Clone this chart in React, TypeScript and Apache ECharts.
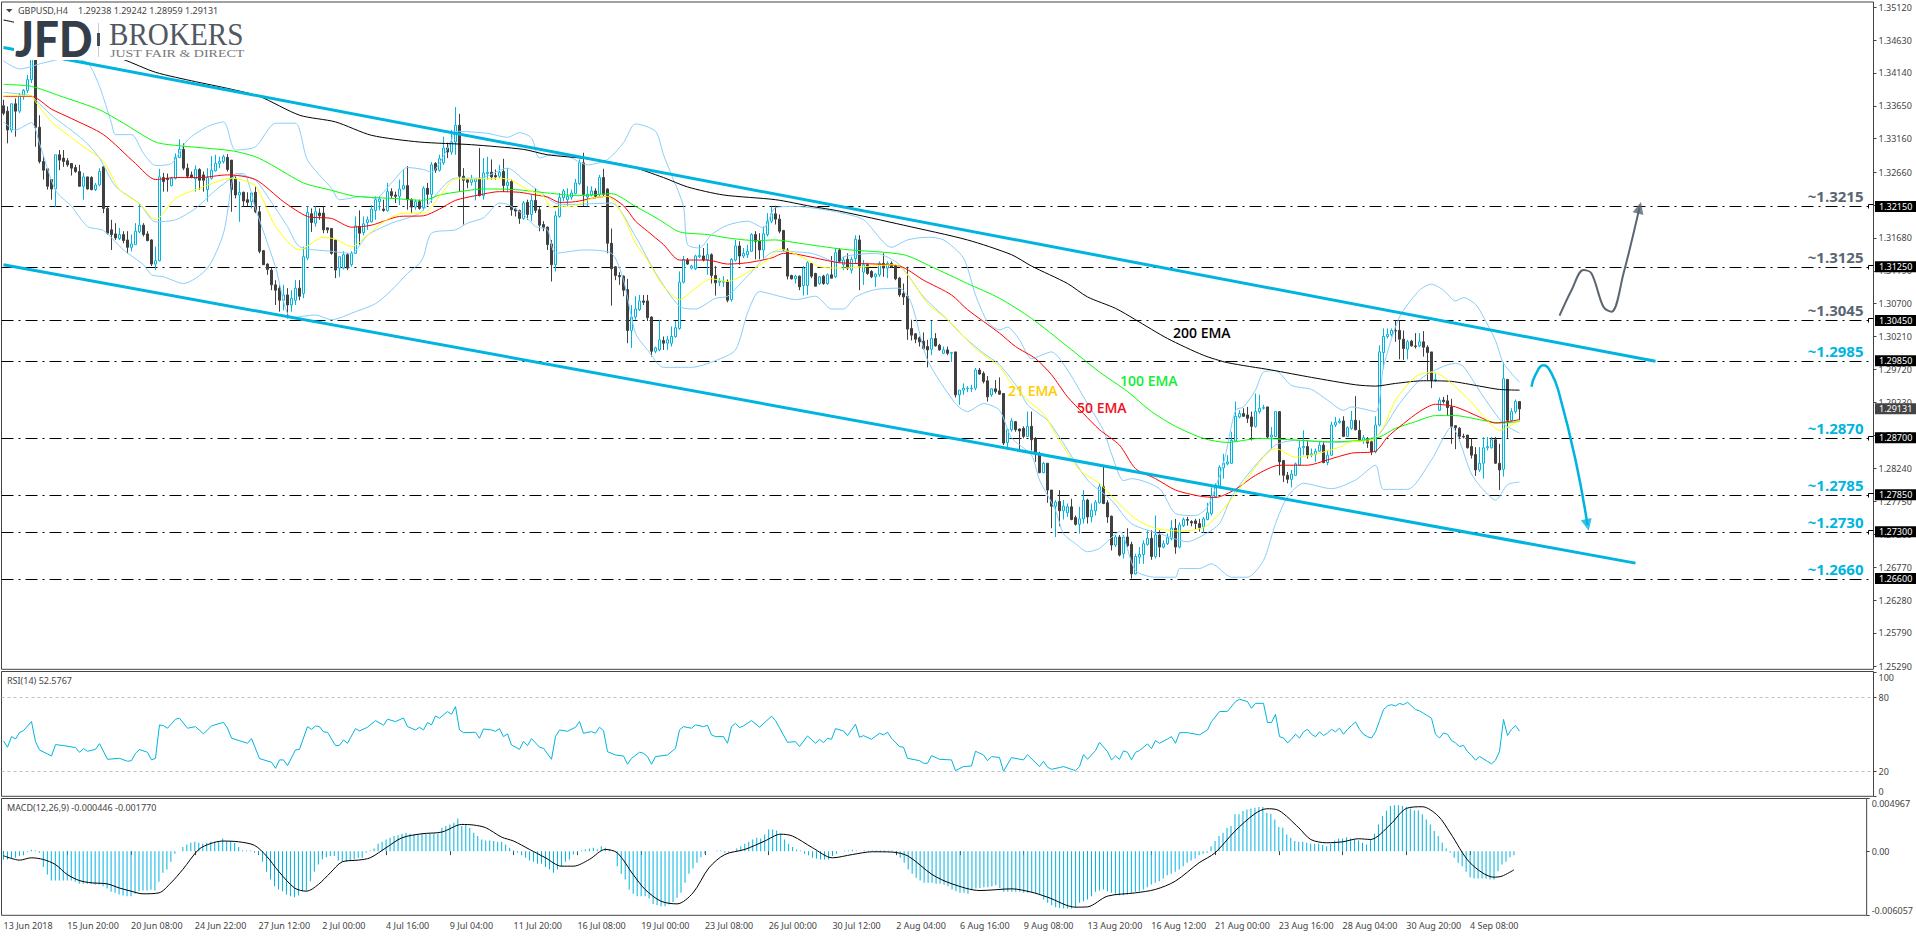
import { useEffect, useRef } from 'react';
import * as echarts from 'echarts';

const FONT = '"Noto Sans", sans-serif';
const BLUE = '#00b4e0';
const SLATE = '#5a6672';

// prices are kept in pips (1.3215 -> 13215), one row per 10 bars: open, close, low, high
const candles = [
    [13365,13354,13351,13374],[13357,13329,13309,13364],[13329,13368,13325,13368],[13368,13357,13319,13376],[13357,13380,13354,13384],[13379,13388,13374,13390],[13388,13404,13384,13411],[13404,13434,13399,13434],[13434,13333,13304,13434],[13333,13282,13279,13351],
    [13282,13269,13255,13289],[13271,13245,13240,13272],[13255,13241,13225,13255],[13241,13292,13214,13292],[13292,13284,13269,13299],[13287,13282,13274,13299],[13283,13277,13274,13287],[13279,13272,13261,13279],[13273,13267,13265,13277],[13267,13245,13245,13277],
    [13245,13259,13225,13265],[13259,13241,13240,13259],[13258,13240,13239,13260],[13240,13247,13238,13250],[13247,13267,13245,13272],[13274,13212,13205,13274],[13212,13175,13173,13215],[13180,13173,13150,13195],[13174,13168,13165,13190],[13167,13173,13165,13183],
    [13173,13164,13160,13178],[13165,13154,13145,13178],[13154,13159,13148,13173],[13158,13178,13158,13190],[13177,13187,13175,13219],[13187,13173,13170,13190],[13174,13164,13163,13178],[13165,13129,13126,13166],[13129,13134,13120,13155],[13134,13259,13133,13271],
    [13258,13252,13237,13265],[13257,13255,13237,13264],[13246,13257,13245,13259],[13257,13288,13255,13294],[13288,13300,13287,13315],[13300,13272,13269,13309],[13272,13260,13257,13279],[13262,13258,13257,13267],[13256,13270,13237,13276],[13270,13254,13240,13272],
    [13262,13254,13237,13267],[13240,13258,13222,13272],[13257,13269,13255,13290],[13268,13279,13267,13292],[13279,13282,13272,13289],[13282,13289,13279,13292],[13288,13270,13267,13293],[13284,13240,13207,13284],[13256,13232,13227,13260],[13232,13236,13192,13252],
    [13236,13223,13214,13237],[13225,13221,13215,13236],[13222,13235,13212,13236],[13236,13207,13205,13245],[13207,13148,13145,13215],[13149,13128,13128,13150],[13129,13121,13113,13130],[13120,13098,13090,13123],[13098,13090,13068,13105],[13093,13075,13058,13098],
    [13075,13083,13060,13098],[13083,13068,13048,13093],[13068,13078,13058,13090],[13075,13093,13068,13105],[13093,13081,13075,13105],[13085,13140,13078,13155],[13138,13206,13135,13215],[13204,13191,13177,13212],[13190,13207,13185,13215],[13205,13201,13195,13212],
    [13205,13180,13175,13215],[13183,13180,13175,13183],[13182,13145,13143,13183],[13165,13120,13108,13165],[13123,13140,13110,13140],[13123,13143,13121,13148],[13143,13123,13120,13145],[13128,13145,13125,13148],[13145,13186,13144,13200],[13185,13175,13158,13209],
    [13176,13189,13172,13200],[13191,13195,13180,13200],[13192,13211,13191,13217],[13209,13225,13195,13230],[13222,13226,13209,13230],[13211,13209,13207,13225],[13209,13237,13207,13250],[13237,13231,13227,13242],[13232,13230,13220,13237],[13230,13241,13217,13255],
    [13241,13246,13240,13270],[13246,13225,13210,13275],[13225,13214,13205,13227],[13214,13222,13210,13225],[13222,13212,13210,13225],[13213,13242,13209,13245],[13242,13233,13218,13250],[13233,13277,13220,13281],[13279,13269,13265,13281],[13269,13286,13267,13292],
    [13280,13302,13277,13319],[13302,13296,13287,13310],[13296,13311,13292,13329],[13311,13336,13292,13363],[13336,13260,13237,13353],[13260,13254,13188,13272],[13255,13251,13242,13257],[13251,13255,13246,13262],[13252,13256,13224,13257],[13256,13231,13230,13302],
    [13231,13265,13225,13287],[13264,13266,13255,13289],[13266,13259,13255,13285],[13261,13259,13255,13270],[13260,13266,13257,13277],[13267,13246,13237,13286],[13246,13251,13237,13272],[13252,13210,13201,13255],[13211,13208,13200,13213],[13209,13197,13189,13210],
    [13197,13220,13195,13223],[13221,13203,13195,13225],[13203,13224,13193,13232],[13224,13209,13205,13242],[13210,13187,13178,13215],[13188,13184,13178,13193],[13184,13158,13150,13185],[13159,13128,13103,13165],[13128,13201,13118,13208],[13200,13228,13198,13235],
    [13228,13238,13223,13241],[13225,13230,13215,13242],[13229,13235,13225,13240],[13234,13250,13233,13256],[13249,13280,13247,13285],[13280,13233,13215,13295],[13229,13233,13215,13245],[13232,13238,13230,13245],[13238,13230,13227,13242],[13233,13258,13230,13262],
    [13258,13233,13230,13271],[13241,13160,13145,13242],[13160,13122,13067,13182],[13125,13112,13105,13126],[13112,13110,13098,13117],[13111,13090,13081,13112],[13091,13030,13011,13107],[13030,13050,13004,13068],[13050,13062,13046,13081],[13061,13074,13059,13083],
    [13074,13072,13068,13083],[13074,13049,13044,13083],[13050,12999,12991,13051],[12999,13004,12996,13006],[13001,13016,12999,13046],[13015,13011,13001,13021],[13011,13016,13001,13022],[13011,13021,13006,13036],[13021,13034,13019,13044],[13033,13102,13031,13118],
    [13102,13136,13100,13141],[13135,13129,13128,13138],[13123,13126,13121,13128],[13122,13141,13120,13143],[13140,13142,13138,13158],[13141,13135,13133,13153],[13135,13143,13113,13160],[13143,13112,13100,13145],[13112,13101,13082,13126],[13102,13104,13096,13108],
    [13102,13103,13095,13111],[13103,13075,13072,13106],[13076,13136,13073,13138],[13135,13156,13133,13165],[13156,13141,13128,13163],[13141,13145,13138,13153],[13143,13148,13138,13158],[13148,13173,13147,13175],[13173,13163,13136,13178],[13163,13150,13136,13175],
    [13150,13174,13136,13185],[13173,13193,13170,13205],[13193,13204,13190,13215],[13204,13196,13188,13216],[13196,13178,13175,13203],[13179,13150,13148,13180],[13150,13111,13106,13153],[13112,13107,13106,13113],[13107,13111,13100,13113],[13111,13095,13090,13112],
    [13097,13123,13082,13126],[13097,13131,13083,13133],[13130,13111,13108,13131],[13115,13096,13096,13116],[13100,13110,13098,13111],[13111,13100,13098,13113],[13100,13113,13098,13115],[13113,13108,13108,13141],[13110,13146,13108,13153],[13150,13133,13131,13153],
    [13128,13135,13120,13140],[13136,13123,13120,13145],[13120,13136,13115,13140],[13137,13166,13130,13172],[13165,13126,13090,13172],[13117,13128,13098,13135],[13128,13115,13113,13130],[13118,13110,13108,13120],[13110,13114,13095,13115],[13113,13130,13110,13133],
    [13130,13123,13110,13145],[13123,13130,13108,13133],[13130,13125,13123,13133],[13126,13107,13105,13128],[13108,13083,13080,13110],[13085,13080,13068,13100],[13081,13032,13016,13125],[13033,13023,13015,13046],[13025,13017,13011,13026],[13019,13013,13006,13021],
    [13014,13003,13001,13027],[13006,13001,12975,13016],[13002,13018,12993,13044],[13018,13007,13006,13026],[13008,13001,13000,13010],[12996,13001,12995,13006],[13001,12996,12993,13006],[12996,12997,12983,12998],[12998,12934,12930,12998],[12934,12941,12919,12941],
    [12941,12944,12934,12951],[12943,12944,12938,12947],[12943,12944,12938,12949],[12944,12971,12941,12974],[12971,12965,12964,12974],[12966,12954,12951,12969],[12955,12931,12924,12962],[12934,12943,12931,12944],[12943,12939,12936,12956],[12940,12935,12934,12960],
    [12936,12862,12859,12936],[12863,12882,12854,12884],[12882,12895,12879,12899],[12894,12882,12879,12895],[12883,12880,12852,12884],[12884,12872,12869,12887],[12872,12887,12871,12909],[12887,12867,12851,12909],[12869,12846,12834,12871],[12846,12818,12817,12849],
    [12818,12832,12817,12834],[12832,12792,12773,12832],[12792,12768,12735,12792],[12768,12774,12722,12777],[12775,12761,12738,12792],[12761,12768,12748,12777],[12758,12767,12752,12772],[12767,12748,12747,12779],[12751,12741,12739,12754],[12741,12749,12727,12767],
    [12749,12777,12742,12792],[12777,12752,12742,12779],[12752,12762,12744,12772],[12761,12774,12754,12777],[12773,12797,12772,12802],[12797,12772,12771,12828],[12773,12752,12743,12777],[12753,12710,12702,12754],[12710,12722,12707,12725],[12722,12695,12693,12725],
    [12697,12722,12690,12725],[12722,12709,12707,12735],[12711,12667,12660,12715],[12667,12693,12666,12697],[12692,12696,12682,12707],[12696,12712,12682,12717],[12711,12720,12709,12732],[12720,12693,12688,12732],[12693,12725,12690,12754],[12725,12707,12692,12732],
    [12707,12712,12705,12717],[12712,12721,12710,12727],[12720,12735,12717,12747],[12735,12707,12697,12749],[12707,12740,12705,12744],[12739,12748,12737,12751],[12748,12747,12739,12752],[12745,12743,12738,12747],[12746,12742,12734,12749],[12742,12736,12730,12749],
    [12737,12749,12728,12752],[12748,12758,12747,12773],[12757,12784,12754,12796],[12782,12799,12780,12802],[12798,12826,12797,12829],[12825,12832,12809,12846],[12831,12834,12829,12844],[12832,12866,12831,12879],[12865,12902,12864,12924],[12901,12906,12899,12911],
    [12906,12902,12901,12914],[12904,12899,12892,12916],[12901,12887,12866,12909],[12887,12909,12885,12936],[12909,12914,12906,12934],[12914,12915,12912,12919],[12916,12871,12869,12916],[12871,12874,12853,12886],[12872,12909,12871,12909],[12909,12834,12814,12909],
    [12836,12814,12804,12837],[12814,12808,12802,12819],[12808,12816,12796,12822],[12814,12831,12813,12833],[12829,12855,12828,12866],[12855,12857,12844,12881],[12857,12844,12839,12866],[12844,12846,12841,12854],[12845,12850,12834,12854],[12850,12859,12849,12864],
    [12859,12833,12832,12864],[12833,12844,12829,12851],[12844,12889,12843,12894],[12889,12893,12886,12901],[12893,12895,12891,12899],[12895,12872,12871,12902],[12872,12885,12871,12887],[12884,12896,12882,12910],[12896,12882,12881,12932],[12881,12866,12864,12896],
    [12866,12870,12861,12874],[12869,12862,12855,12871],[12864,12849,12844,12866],[12849,12889,12847,12902],[12889,12998,12887,13008],[12997,13021,12973,13033],[13021,13024,13018,13033],[13024,13030,13021,13033],[13030,13029,13013,13045],[13030,13017,12987,13045],
    [13017,13003,12986,13030],[13002,13013,12987,13016],[13014,13007,13006,13016],[13007,13006,13003,13026],[13007,13013,13005,13026],[13013,13005,12991,13029],[13005,12997,12956,13008],[12998,12956,12944,12998],[12955,12957,12953,12966],[12911,12926,12910,12930],
    [12926,12924,12921,12931],[12925,12915,12903,12934],[12916,12887,12861,12928],[12888,12885,12853,12888],[12884,12872,12869,12886],[12872,12871,12869,12876],[12874,12855,12854,12874],[12857,12844,12839,12869],[12845,12822,12813,12856],[12822,12832,12819,12856],
    [12832,12855,12809,12871],[12855,12857,12851,12871],[12855,12867,12854,12871],[12867,12832,12831,12871],[12832,12822,12792,12861],[12823,12958,12812,12983],[12957,12896,12870,12957],[12896,12909,12894,12914],[12909,12924,12906,12927],[12924,12913,12896,12924],
];

// the indicators below are [bar, pips] vertices
const ema21 = [[0,13380],[7,13380],[8,13371],[12,13341],[16,13322],[20,13304],[25,13282],[29,13240],[34,13219],[38,13195],[43,13227],[49,13242],[57,13257],[63,13245],[68,13185],[74,13150],[80,13169],[83,13166],[87,13155],[91,13172],[95,13192],[100,13205],[105,13205],[109,13230],[113,13256],[118,13256],[124,13257],[127,13254],[131,13240],[135,13230],[137,13213],[140,13215],[143,13216],[147,13227],[151,13230],[155,13200],[158,13160],[161,13135],[165,13096],[169,13076],[173,13093],[177,13107],[181,13103],[185,13113],[191,13135],[194,13151],[196,13149],[201,13135],[204,13125],[209,13123],[223,13128],[227,13105],[231,13070],[236,13046],[243,13003],[249,12976],[252,12951],[257,12921],[260,12906],[264,12866],[269,12822],[274,12802],[278,12777],[283,12749],[288,12735],[294,12731],[300,12736],[304,12757],[309,12794],[315,12841],[318,12854],[323,12841],[327,12844],[334,12856],[337,12864],[342,12866],[345,12886],[348,12926],[353,12961],[357,12968],[360,12961],[366,12929],[371,12896],[374,12881],[379,12896]];
const ema50 = [[0,13379],[7,13379],[12,13360],[17,13346],[25,13322],[33,13279],[38,13255],[43,13258],[49,13258],[56,13262],[63,13255],[70,13222],[76,13200],[82,13197],[87,13184],[92,13187],[99,13200],[105,13201],[109,13211],[113,13224],[118,13231],[124,13237],[129,13236],[133,13232],[136,13229],[139,13221],[143,13222],[147,13227],[151,13230],[155,13216],[158,13193],[161,13178],[165,13158],[169,13135],[176,13135],[181,13129],[186,13131],[192,13138],[195,13145],[198,13144],[203,13138],[209,13131],[224,13126],[230,13105],[237,13083],[241,13061],[249,13026],[253,13006],[258,12988],[262,12964],[266,12931],[270,12906],[274,12882],[279,12859],[283,12824],[288,12809],[293,12792],[299,12783],[303,12781],[308,12793],[313,12814],[319,12829],[326,12829],[331,12837],[337,12847],[343,12850],[346,12871],[350,12891],[354,12909],[358,12920],[363,12916],[369,12901],[373,12892],[379,12897]];
const ema100 = [[0,13397],[7,13394],[14,13380],[24,13359],[30,13339],[38,13311],[43,13306],[57,13298],[63,13289],[67,13277],[75,13250],[82,13239],[88,13230],[97,13227],[105,13224],[109,13232],[114,13237],[120,13241],[128,13240],[136,13235],[144,13231],[152,13234],[158,13215],[164,13195],[169,13177],[176,13173],[181,13168],[188,13164],[193,13165],[199,13160],[210,13151],[225,13143],[232,13125],[241,13100],[249,13078],[257,13048],[266,13006],[274,12968],[281,12939],[287,12909],[293,12887],[300,12869],[306,12863],[314,12869],[322,12867],[332,12864],[339,12866],[344,12871],[348,12884],[353,12894],[358,12903],[363,12903],[369,12897],[374,12892],[379,12894]];
const ema200 = [[0,13493],[3,13489],[30,13434],[38,13415],[48,13401],[56,13391],[64,13379],[74,13351],[83,13341],[92,13321],[104,13311],[117,13307],[130,13300],[136,13292],[146,13286],[156,13276],[165,13258],[171,13244],[180,13232],[193,13225],[202,13215],[209,13208],[225,13187],[241,13165],[252,13143],[257,13126],[266,13100],[271,13080],[278,13063],[283,13046],[291,13018],[300,12993],[306,12982],[317,12971],[327,12960],[338,12949],[343,12947],[348,12951],[355,12955],[362,12954],[369,12947],[374,12942],[379,12941]];
const bandUpper = [[0,13432],[4,13420],[10,13429],[16,13436],[21,13429],[24,13394],[27,13339],[28,13322],[32,13322],[35,13294],[38,13276],[42,13279],[46,13314],[51,13334],[55,13341],[58,13299],[63,13304],[68,13339],[73,13339],[76,13284],[82,13242],[84,13225],[90,13230],[93,13227],[97,13250],[101,13273],[105,13270],[107,13266],[110,13290],[112,13314],[113,13327],[121,13324],[126,13318],[129,13325],[132,13317],[134,13287],[137,13292],[141,13290],[146,13277],[151,13285],[155,13310],[158,13338],[163,13327],[165,13292],[167,13262],[170,13215],[171,13158],[174,13153],[177,13173],[181,13187],[186,13193],[190,13183],[193,13213],[198,13215],[203,13212],[209,13206],[215,13195],[222,13154],[226,13165],[231,13169],[235,13165],[240,13138],[243,13083],[246,13043],[249,13031],[251,13035],[254,13016],[257,12988],[262,12998],[266,12971],[270,12931],[275,12881],[277,12846],[280,12806],[282,12809],[289,12794],[293,12757],[298,12754],[301,12767],[305,12832],[308,12911],[310,12916],[313,12941],[315,12968],[318,12970],[322,12948],[327,12942],[331,12926],[335,12911],[337,12916],[343,12909],[345,12976],[349,13050],[354,13090],[357,13099],[360,13090],[363,13074],[365,13079],[368,13069],[370,13050],[373,13015],[375,12981],[379,12953]];
const bandMiddle = [[0,13385],[7,13380],[8,13374],[12,13351],[20,13314],[24,13287],[28,13245],[34,13219],[38,13192],[43,13195],[48,13212],[53,13239],[57,13257],[59,13262],[63,13254],[66,13230],[71,13185],[74,13155],[82,13148],[87,13145],[91,13172],[97,13190],[104,13205],[113,13257],[119,13257],[126,13272],[130,13255],[134,13237],[139,13218],[143,13218],[147,13219],[152,13220],[158,13170],[163,13116],[169,13066],[173,13062],[178,13078],[181,13081],[186,13111],[193,13148],[202,13145],[209,13131],[210,13140],[218,13145],[224,13128],[230,13080],[236,13046],[240,13021],[245,12996],[249,12979],[254,12941],[256,12919],[261,12896],[264,12871],[271,12807],[277,12777],[282,12742],[290,12725],[296,12715],[300,12725],[304,12742],[307,12782],[312,12822],[318,12859],[323,12866],[332,12863],[340,12866],[344,12876],[349,12921],[355,12961],[363,12981],[365,12976],[370,12931],[375,12891],[379,12877]];
const bandLower = [[0,13341],[3,13329],[7,13340],[9,13309],[13,13239],[17,13215],[21,13185],[25,13179],[30,13150],[35,13128],[37,13113],[40,13110],[45,13100],[51,13123],[55,13175],[58,13264],[60,13264],[63,13212],[66,13160],[68,13125],[72,13049],[78,13053],[82,13046],[88,13058],[93,13070],[97,13090],[101,13115],[104,13130],[105,13140],[107,13175],[113,13180],[116,13190],[120,13198],[124,13220],[126,13218],[130,13203],[133,13185],[136,13180],[138,13145],[145,13150],[152,13145],[155,13105],[158,13026],[161,13001],[165,12975],[172,12975],[178,12985],[183,13001],[186,13056],[189,13088],[194,13081],[198,13076],[203,13081],[207,13062],[210,13062],[213,13080],[218,13091],[224,13093],[227,13070],[231,12986],[238,12921],[241,12909],[245,12921],[249,12911],[252,12870],[257,12844],[259,12807],[263,12762],[265,12727],[268,12712],[271,12700],[274,12705],[279,12730],[283,12672],[288,12662],[293,12662],[294,12675],[299,12675],[302,12682],[307,12662],[311,12662],[315,12687],[318,12742],[321,12782],[325,12802],[332,12794],[338,12807],[343,12829],[345,12793],[351,12793],[357,12837],[362,12886],[367,12816],[370,12792],[373,12777],[376,12800],[379,12804]];
const channelUpper = [[0,13452],[413,12984]];
const channelLower = [[0,13128],[408,12683]];
const arrowDown = [[382,12946],[383,12964],[385,12978],[387,12966],[389,12934],[393,12837],[396,12740]];
const arrowUp = [[389,13052],[392,13090],[395,13120],[397,13115],[400,13065],[402,13058],[405,13115],[409,13213]];

const levelPrices = [1.3215, 1.3125, 1.3045, 1.2985, 1.287, 1.2785, 1.273, 1.266];
const levelNames = ['~1.3215', '~1.3125', '~1.3045', '~1.2985', '~1.2870', '~1.2785', '~1.2730', '~1.2660'];
const levelTags = ['1.32150', '1.31250', '1.30450', '1.29850', '1.28700', '1.27850', '1.27300', '1.26600'];
const levelColors = [SLATE, SLATE, SLATE, BLUE, BLUE, BLUE, BLUE, BLUE];
const levelHooks = [true, true, true, false, true, true, true, false];
const lastPrice = 1.29131;
const priceTicks = [1.3512, 1.3463, 1.3414, 1.3365, 1.3316, 1.3266, 1.3217, 1.3168, 1.3119, 1.307, 1.3021, 1.2972, 1.2923, 1.2874, 1.2824, 1.2775, 1.2726, 1.2677, 1.2628, 1.2579, 1.2529];

const rsiValues = [[0,44.6],[1,39.5],[2,48.1],[3,46.2],[4,51.3],[5,53],[7,60.3],[8,44],[9,37.3],[12,32.4],[13,41.6],[15,40.8],[18,39.2],[19,35.4],[20,38.4],[21,36.2],[23,37.8],[24,42.4],[26,29.7],[29,30.5],[31,28.1],[32,28.6],[33,34.6],[34,37.6],[36,35.4],[37,29.2],[38,30.5],[39,57.6],[40,57],[41,54.9],[43,62.2],[44,63],[46,54.9],[48,56.2],[50,50.3],[52,56.8],[55,59.7],[56,54.9],[57,46.8],[61,42.7],[62,46.5],[64,30.3],[67,27.3],[68,22.4],[69,29.2],[70,29.2],[71,24.6],[73,37.3],[74,37.8],[76,56.2],[77,54],[78,56.8],[79,56.2],[80,51.9],[81,51.6],[83,40.8],[84,41],[85,45.4],[86,42.7],[88,54.6],[89,52.7],[91,55.7],[93,61.1],[95,57.3],[96,62.2],[98,60.3],[100,63.2],[101,56.2],[103,53.5],[104,55.7],[105,53.5],[106,59.5],[107,57.6],[108,64.9],[109,63],[111,68.4],[112,66.2],[113,72.4],[114,53.5],[115,51.3],[118,51.6],[119,46.8],[120,54.3],[122,53.5],[123,52.4],[124,54.6],[125,48.1],[126,50.3],[127,41.3],[129,37.8],[130,44.3],[131,40.8],[132,46.5],[134,39.5],[135,38.6],[137,29.7],[138,48.1],[139,53.5],[141,52.4],[143,55.7],[144,60.3],[145,50.8],[147,52.2],[148,50.8],[149,55.7],[150,53],[151,35.9],[153,33.2],[155,32.4],[156,25.7],[157,30.5],[159,35.4],[160,34.6],[161,31.9],[162,25.7],[163,31.9],[166,33.2],[168,38.6],[169,53.5],[170,56.2],[172,54.9],[173,57.6],[175,56.2],[176,57.3],[177,49.5],[178,48.1],[180,48.1],[181,42.7],[182,56.2],[183,58.9],[184,55.4],[185,56.8],[187,61.1],[189,55.7],[192,64.6],[193,61.1],[196,43.5],[198,44],[199,40],[201,48.6],[203,42.7],[204,45.9],[205,43.2],[206,46.8],[207,45.9],[208,54.6],[210,52.7],[211,48.9],[213,58.1],[214,47.6],[215,48.9],[217,45.9],[219,50.8],[220,49.5],[221,51.6],[222,46.8],[224,40],[225,39.5],[226,30.5],[229,28.6],[230,26.5],[231,26.5],[232,32.7],[234,29.7],[237,29.2],[238,20.5],[240,23.8],[242,24.3],[243,36.2],[245,33.2],[246,28.6],[247,31.9],[249,31.1],[250,20],[252,31.1],[255,29.2],[256,33.5],[259,23.8],[260,28.1],[261,23.3],[262,21.6],[264,23],[265,23.8],[268,20.5],[269,23.8],[270,33.5],[271,29.7],[273,36.8],[274,43.5],[276,35.9],[277,29.2],[278,32.4],[279,29.7],[280,36.5],[281,35.4],[282,29.2],[283,35.4],[284,36.8],[286,42.2],[287,38.4],[288,44.9],[289,42.7],[291,46.2],[292,48.1],[293,42.7],[294,51.3],[296,51.3],[299,49.5],[301,53.5],[302,60.3],[304,68.4],[306,68.6],[308,76.5],[309,78.4],[311,76.5],[312,71.1],[313,75.1],[315,75.1],[316,59.5],[317,59.5],[318,66.2],[319,48.1],[320,47],[321,43],[322,46],[323,50],[324,47],[325,52],[326,54],[327,50],[328,48],[329,52],[330,49],[331,51],[332,54],[333,52],[334,55],[335,50],[336,54],[337,57],[338,60],[339,54],[340,50],[341,48],[342,47],[343,52],[344,61],[345,70],[346,73],[347,74],[348,73],[349,75],[350,74],[351,76],[352,73],[353,70],[354,69],[355,67],[356,65],[357,63],[358,50],[359,47],[360,51],[361,50],[362,45],[363,43],[364,40],[365,41],[366,36],[367,33],[368,29],[369,32],[370,30],[371,28],[372,26],[373,29],[374,36],[375,62],[376,49],[377,54],[378,57],[379,52.6]];
const rsiTicks = [100, 80, 20, 0];
const rsiGuides = [80, 20];

// MACD histogram and signal are in millionths
const macdHist = [
    -790,-790,-690,-630,-470,-380,-90,130,60,-160,
    -1510,-2200,-2770,-2770,-2770,-2770,-2770,-2770,-2900,-3090,
    -3090,-3090,-3090,-3150,-3150,-3310,-3530,-3840,-3940,-4100,
    -4190,-4250,-4250,-4030,-3780,-3720,-3720,-3650,-3720,-2900,
    -2050,-1730,-1010,-250,0,380,630,790,880,790,
    690,790,880,880,950,1200,950,950,790,380,
    90,60,60,-160,-320,-1010,-1950,-2680,-3310,-3620,
    -3780,-4100,-4250,-4350,-4190,-3780,-3720,-2840,-1950,-1260,
    -790,-570,-470,-470,-880,-1010,-1010,-880,-790,-630,
    -630,-160,60,250,690,880,1100,1260,1420,1510,
    1640,1730,1640,1580,1580,1640,1640,1640,1640,1640,
    2210,2360,2520,2680,3090,2360,2520,2210,1730,1420,
    1100,1010,1010,950,880,880,630,320,60,-160,
    -380,-630,-880,-1010,-1200,-1200,-1510,-1730,-2050,-1730,
    -1420,-1010,-790,-320,-160,60,160,250,320,160,
    470,320,160,0,-1420,-2140,-2680,-3620,-4030,-4250,
    -4250,-4250,-4470,-4980,-5100,-5200,-5200,-5040,-4790,-4410,
    -3940,-2990,-2140,-1640,-1100,-570,-250,0,0,60,
    60,-160,-160,-60,250,470,690,880,1100,1260,
    1200,1580,2050,2050,1950,1640,1100,690,380,130,
    60,-250,-380,-630,-690,-790,-790,-790,-470,-250,
    0,60,60,130,60,0,60,60,60,60,
    60,60,60,60,-160,-630,-1100,-1730,-2140,-2520,
    -2770,-2990,-2990,-2990,-3090,-3090,-3150,-3310,-3620,-3780,
    -3940,-3940,-4030,-3620,-3530,-3470,-3400,-3400,-3310,-3210,
    -3470,-3840,-3840,-3840,-3840,-3840,-3940,-3940,-3940,-4030,
    -4160,-4570,-4880,-5100,-5290,-5360,-5420,-5420,-5420,-5290,
    -4880,-4730,-4570,-4250,-3840,-3720,-3620,-3780,-3940,-4030,
    -4160,-4160,-4100,-3940,-3840,-3780,-3620,-3400,-3150,-2990,
    -2840,-2580,-2270,-2140,-1950,-1730,-1420,-1100,-880,-690,
    -380,-250,-160,470,950,1420,1730,2210,2360,3470,
    3470,3780,3940,4030,4100,4160,4160,3620,3530,2990,
    2270,2210,1580,1260,950,880,880,790,690,690,
    690,570,470,690,1010,1200,1200,1320,1200,1100,
    1010,790,630,1100,1640,2520,3310,3840,4250,4320,
    4320,4250,4160,4030,3840,3840,3470,2990,2520,1890,
    1420,790,250,-160,-630,-1100,-1420,-1950,-2460,-2580,
    -2580,-2580,-2580,-2680,-2680,-1890,-1260,-1010,-570,-380,
];
const macdSignal = [[0,-440],[2,-690],[4,-850],[7,-630],[10,-790],[13,-1260],[16,-2210],[19,-2770],[22,-2990],[26,-3090],[29,-3470],[32,-3780],[35,-4030],[39,-3940],[42,-3000],[45,-1730],[49,160],[52,720],[55,950],[59,880],[63,540],[66,-470],[69,-1890],[73,-3470],[76,-3780],[79,-3150],[82,-2050],[85,-1010],[89,-850],[92,-630],[96,320],[100,1260],[105,1640],[110,1800],[115,2520],[118,2460],[121,2210],[125,1320],[128,950],[132,160],[136,-630],[140,-1420],[143,-1420],[147,-790],[151,160],[154,-160],[158,-2210],[161,-3620],[165,-4730],[169,-4980],[173,-3940],[177,-1580],[181,-320],[186,160],[191,950],[195,1600],[198,1420],[203,320],[208,-630],[213,-320],[218,-60],[223,-90],[227,-470],[233,-2210],[238,-3090],[245,-3720],[253,-3560],[258,-3880],[262,-4350],[269,-5290],[272,-5260],[277,-4250],[284,-3940],[289,-3620],[294,-2840],[300,-1100],[304,-160],[309,1890],[314,3530],[317,4000],[320,3840],[325,2210],[328,1100],[332,790],[336,880],[340,1170],[343,1100],[348,2520],[352,4030],[356,4190],[360,3310],[363,1730],[368,-1100],[374,-2460],[376,-2360],[379,-1770]];
const macdTicks = [0.004967, 0, -0.006057];

const dateTicks = ['13 Jun 2018', '15 Jun 20:00', '20 Jun 08:00', '24 Jun 22:00', '27 Jun 12:00', '2 Jul 00:00', '4 Jul 16:00', '9 Jul 04:00', '11 Jul 20:00', '16 Jul 08:00', '19 Jul 00:00', '23 Jul 08:00', '26 Jul 00:00', '30 Jul 12:00', '2 Aug 04:00', '6 Aug 16:00', '9 Aug 08:00', '13 Aug 20:00', '16 Aug 12:00', '21 Aug 00:00', '23 Aug 16:00', '28 Aug 04:00', '30 Aug 20:00', '4 Sep 08:00'];
const categories = Array.from({ length: 468 }, (_, i) => (i % 16 === 0 ? dateTicks[i / 16] ?? '' : ''));

const toPrice = (rows: number[][]) => rows.map(([bar, pips]) => [bar, pips / 10000]);

const thinLine = (name: string, data: number[][], color: string, width = 1, smooth: number | boolean = 0.25) => ({
    name,
    type: 'line',
    xAxisIndex: 0,
    yAxisIndex: 0,
    data: toPrice(data),
    symbol: 'none',
    smooth,
    silent: true,
    lineStyle: { color, width },
});

const gridBase = { left: 1.5, width: 1872, show: true, borderColor: '#444', borderWidth: 1, backgroundColor: '#fff' };

const panelAxis = (gridIndex: number) => ({
    type: 'category',
    gridIndex,
    data: categories,
    axisLine: { show: false },
    axisTick: { show: false },
    axisLabel: { show: false },
    splitLine: { show: false },
});

const valueAxis = (gridIndex: number, min: number, max: number, ticks: number[], formatter: (v: number) => string) => ({
    type: 'value',
    gridIndex,
    position: 'right',
    min,
    max,
    scale: true,
    splitLine: { show: false },
    axisLine: { show: false },
    axisTick: { show: true, length: 3, lineStyle: { color: '#444' }, customValues: ticks },
    axisLabel: {
        color: '#444',
        fontFamily: FONT,
        fontSize: 9,
        margin: 5,
        customValues: ticks,
        formatter,
        verticalAlignMinLabel: gridIndex === 0 ? undefined : 'top',
        verticalAlignMaxLabel: gridIndex === 0 ? undefined : 'bottom',
    },
});

const plainText = (x: number, y: number, text: string, extra = {}) => ({
    type: 'text',
    x,
    y,
    z: 100,
    style: { text, fill: '#444', fontFamily: FONT, fontSize: 9, verticalAlign: 'middle', ...extra },
});

const emaLabel = (x: number, y: number, text: string, fill: string) =>
    plainText(x, y, text, { fill, fontSize: 14, fontWeight: 600, fontFamily: '"Open Sans", sans-serif' });

const App = () => {
    const chartRef = useRef<HTMLDivElement>(null);

    useEffect(() => {
        if (!chartRef.current) return;
        document.body.style.margin = '0';
        const chart = echarts.init(chartRef.current, undefined, { renderer: 'svg' });

        const option = {
            animation: false,
            backgroundColor: '#fff',
            grid: [
                { ...gridBase, top: 2, height: 667.3 },
                { ...gridBase, top: 671.5, height: 124.8 },
                { ...gridBase, top: 798.5, height: 116.8 },
            ],
            xAxis: [
                panelAxis(0),
                panelAxis(1),
                {
                    ...panelAxis(2),
                    axisTick: {
                        show: true,
                        length: 4,
                        alignWithLabel: true,
                        lineStyle: { color: '#444' },
                        interval: (_: number, label: string) => label !== '',
                    },
                    axisLabel: {
                        show: true,
                        color: '#444',
                        fontFamily: FONT,
                        fontSize: 9,
                        margin: 6,
                        align: 'left',
                        interval: (_: number, label: string) => label !== '',
                    },
                },
            ],
            yAxis: [
                valueAxis(0, 1.25247, 1.35198, priceTicks, (v) => v.toFixed(5)),
                valueAxis(1, -0.3, 100.9, rsiTicks, (v) => String(v)),
                valueAxis(2, -0.006057, 0.004967, macdTicks, (v) => (v === 0 ? '0.00' : v.toFixed(6))),
            ],
            series: [
                {
                    name: 'levels',
                    type: 'custom',
                    xAxisIndex: 0,
                    yAxisIndex: 0,
                    z: 1,
                    silent: true,
                    encode: { x: 0, y: 1 },
                    data: levelPrices.map((p, i) => [i, p]),
                    renderItem: (params: any, api: any) => {
                        const y = Math.round(api.coord([0, api.value(1)])[1]) + 0.5;
                        const left = params.coordSys.x;
                        const right = left + params.coordSys.width;
                        const children: any[] = [
                            { type: 'line', shape: { x1: left, y1: y, x2: right, y2: y }, style: { stroke: '#000', lineWidth: 1, lineDash: [12, 5, 2, 5] } },
                        ];
                        if (levelHooks[params.dataIndex]) {
                            children.push({
                                type: 'polyline',
                                shape: { points: [[right - 5, y + 2], [right - 5, y - 2], [right, y - 2]] },
                                style: { stroke: '#000', fill: 'none', lineWidth: 1 },
                            });
                        }
                        return { type: 'group', children };
                    },
                },
                thinLine('Bollinger upper', bandUpper, '#87cefa'),
                thinLine('Bollinger middle', bandMiddle, '#87cefa'),
                thinLine('Bollinger lower', bandLower, '#87cefa'),
                thinLine('EMA 200', ema200, '#000'),
                thinLine('EMA 100', ema100, '#00ff00'),
                thinLine('EMA 50', ema50, '#ff0000'),
                thinLine('EMA 21', ema21, '#ffff00'),
                {
                    name: 'GBPUSD',
                    type: 'candlestick',
                    xAxisIndex: 0,
                    yAxisIndex: 0,
                    barWidth: 3,
                    silent: true,
                    data: candles.map((c) => c.map((v) => v / 10000)),
                    itemStyle: { color: '#fff', color0: '#404040', borderColor: BLUE, borderColor0: '#404040', borderWidth: 1 },
                },
                thinLine('Channel upper', channelUpper, BLUE, 3, false),
                thinLine('Channel lower', channelLower, BLUE, 3, false),
                thinLine('Arrow down', arrowDown, BLUE, 2.5, 0.5),
                thinLine('Arrow up', arrowUp, SLATE, 2, 0.35),
                {
                    name: 'Arrow heads',
                    type: 'scatter',
                    xAxisIndex: 0,
                    yAxisIndex: 0,
                    silent: true,
                    symbol: 'triangle',
                    symbolSize: [11, 12],
                    data: [
                        { value: toPrice(arrowDown)[arrowDown.length - 1], symbolRotate: 192, itemStyle: { color: BLUE } },
                        { value: toPrice(arrowUp)[arrowUp.length - 1], symbolRotate: -14, itemStyle: { color: SLATE } },
                    ],
                },
                {
                    name: 'tags',
                    type: 'custom',
                    xAxisIndex: 0,
                    yAxisIndex: 0,
                    z: 10,
                    silent: true,
                    encode: { x: 0, y: 1 },
                    data: [...levelPrices, lastPrice].map((p, i) => [i, p]),
                    renderItem: (params: any, api: any) => {
                        const i = params.dataIndex;
                        const y = api.coord([0, api.value(1)])[1];
                        const isLast = i === levelPrices.length;
                        const right = params.coordSys.x + params.coordSys.width;
                        const children: any[] = [
                            { type: 'rect', shape: { x: right + 1.5, y: y - 5.5, width: 41, height: 11 }, style: { fill: isLast ? '#444' : '#000' } },
                            {
                                type: 'text',
                                x: right + 5.5,
                                y,
                                style: { text: isLast ? lastPrice.toFixed(5) : levelTags[i], fill: '#fff', fontFamily: FONT, fontSize: 9, verticalAlign: 'middle' },
                            },
                        ];
                        if (!isLast) {
                            children.push({
                                type: 'text',
                                x: right - 10,
                                y: y - 10,
                                style: { text: levelNames[i], fill: levelColors[i], fontFamily: '"Open Sans", sans-serif', fontSize: 15, fontWeight: 700, align: 'right', verticalAlign: 'middle' },
                            });
                        }
                        return { type: 'group', children };
                    },
                },
                {
                    name: 'RSI',
                    type: 'line',
                    xAxisIndex: 1,
                    yAxisIndex: 1,
                    data: rsiValues,
                    symbol: 'none',
                    silent: true,
                    lineStyle: { color: BLUE, width: 1 },
                    markLine: {
                        silent: true,
                        symbol: 'none',
                        label: { show: false },
                        lineStyle: { color: '#c0c0c0', type: [3, 3], width: 1 },
                        data: rsiGuides.map((v) => ({ yAxis: v })),
                    },
                },
                {
                    name: 'MACD',
                    type: 'bar',
                    xAxisIndex: 2,
                    yAxisIndex: 2,
                    barWidth: 1,
                    silent: true,
                    data: macdHist.map((v) => v / 1e6),
                    itemStyle: { color: BLUE },
                },
                {
                    name: 'Signal',
                    type: 'line',
                    xAxisIndex: 2,
                    yAxisIndex: 2,
                    data: macdSignal.map(([bar, v]) => [bar, v / 1e6]),
                    symbol: 'none',
                    smooth: 0.3,
                    silent: true,
                    lineStyle: { color: '#000', width: 1 },
                },
            ],
            graphic: {
                elements: [
                    { type: 'rect', z: 99, shape: { x: 14, y: 21, width: 231, height: 39 }, style: { fill: '#fff' } },
                    { type: 'polygon', z: 100, shape: { points: [[6, 9], [12.5, 9], [9.25, 12.5]] }, style: { fill: '#444' } },
                    plainText(18, 10.5, 'GBPUSD,H4'),
                    plainText(78, 10.5, '1.29238 1.29242 1.28959 1.29131'),
                    plainText(7, 680.5, 'RSI(14) 52.5767'),
                    plainText(7, 807.5, 'MACD(12,26,9) -0.000446 -0.001770'),
                    {
                        type: 'text', x: 15, y: 13, z: 100, scaleX: 0.88,
                        style: { text: 'JFD', fill: '#343d48', fontFamily: 'Lato, "Open Sans", sans-serif', fontSize: 50, fontWeight: 900 },
                    },
                    { type: 'line', z: 100, shape: { x1: 98.5, y1: 23, x2: 98.5, y2: 57 }, style: { stroke: '#c8ccd0', lineWidth: 1 } },
                    { type: 'rect', z: 100, shape: { x: 97, y: 33, width: 3, height: 13 }, style: { fill: '#444c56' } },
                    {
                        type: 'text', x: 109, y: 19, z: 100, scaleX: 0.94,
                        style: { text: 'BROKERS', fill: '#505862', fontFamily: '"Liberation Serif", serif', fontSize: 31 },
                    },
                    {
                        type: 'text', x: 110, y: 49, z: 100, scaleX: 1.4,
                        style: { text: 'JUST FAIR & DIRECT', fill: '#777', fontFamily: '"Liberation Serif", serif', fontSize: 10 },
                    },
                    emaLabel(1173, 332, '200 EMA', '#000'),
                    emaLabel(1120, 380, '100 EMA', '#11ee33'),
                    emaLabel(1077, 407, '50 EMA', '#ee1122'),
                    emaLabel(1008, 390, '21 EMA', '#ffcc00'),
                ],
            },
        };

        chart.setOption(option as any);
        return () => chart.dispose();
    }, []);

    return <div ref={chartRef} style={{ position: 'absolute', left: 0, top: 0, width: 1916, height: 936 }} />;
};

export default App;
